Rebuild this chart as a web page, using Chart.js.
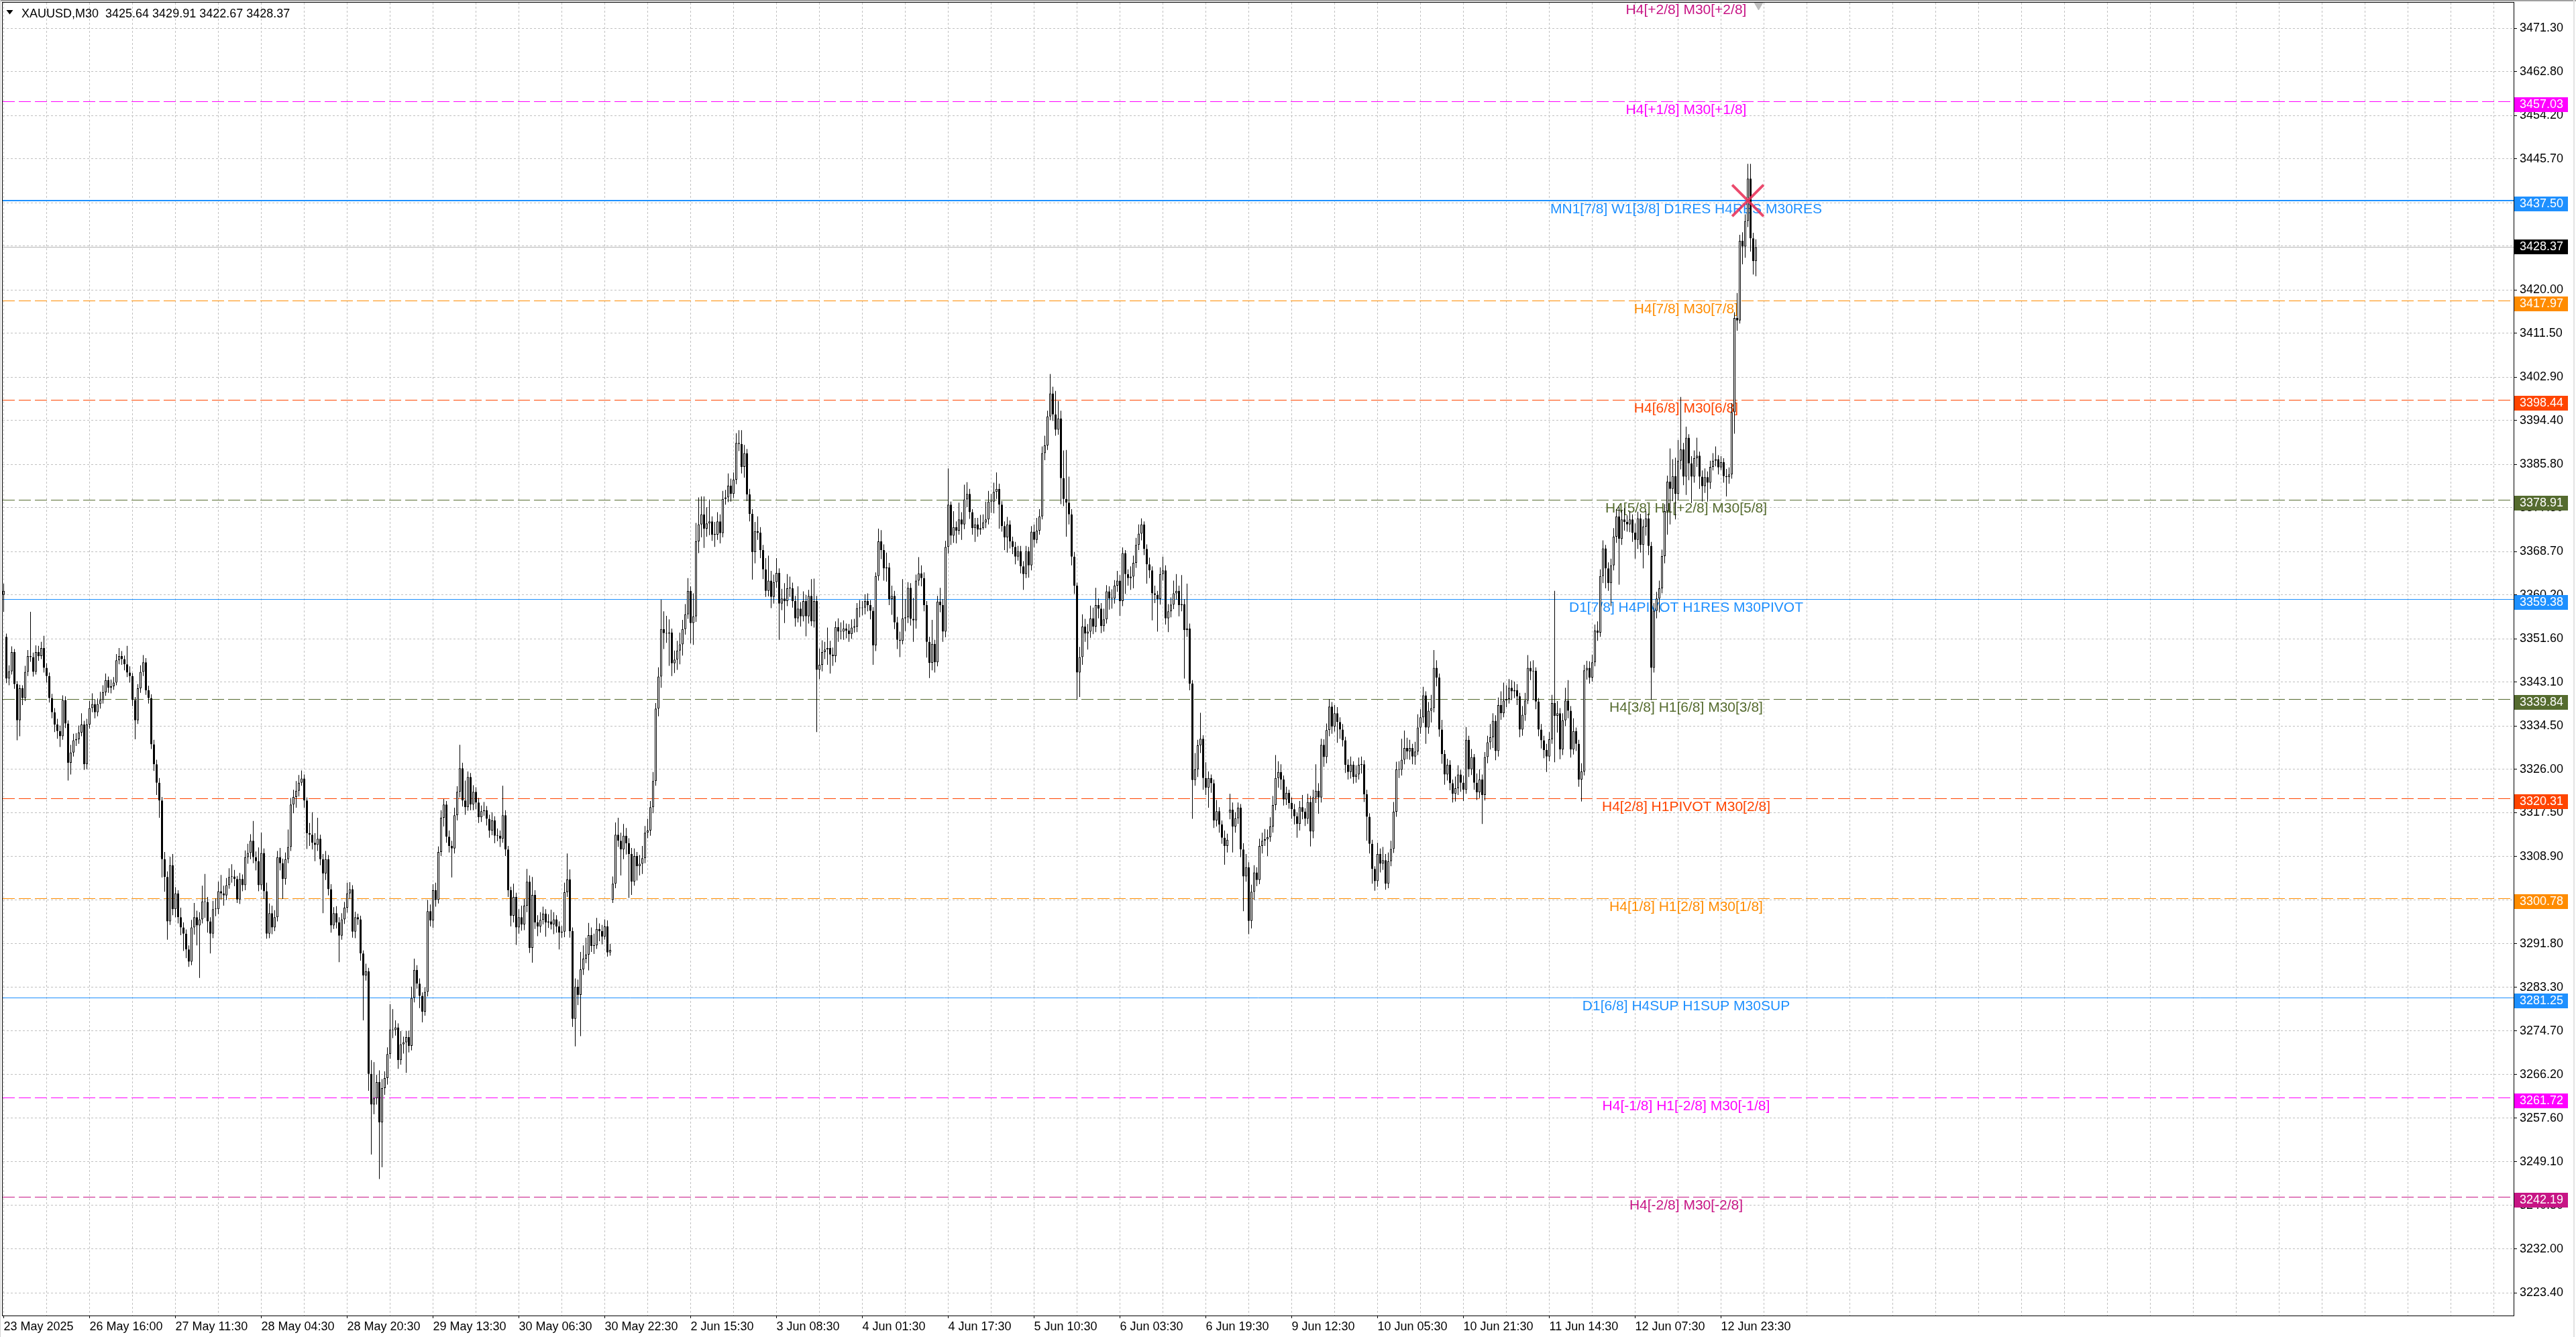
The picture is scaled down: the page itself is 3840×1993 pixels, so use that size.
<!DOCTYPE html>
<html><head><meta charset="utf-8">
<script src="https://cdn.jsdelivr.net/npm/chart.js@4.4.1/dist/chart.umd.min.js"></script>
<style>html,body{margin:0;padding:0;background:#fff;overflow:hidden}canvas{display:block}</style>
</head><body><canvas id="c" width="3840" height="1993"></canvas>
<script>
// ---------------- DATA ----------------
const symbolTitle = 'XAUUSD,M30';
const lastOHLC = [3425.64, 3429.91, 3422.67, 3428.37];
const currentPrice = 3428.37;

const opens = [
3360.2,3352.0,3343.8,3345.2,3349.0,3342.7,3335.6,3341.9,3340.0,3345.1,
3348.2,3348.0,3345.1,3349.0,3348.2,3349.8,3345.9,3344.3,3340.0,3337.2,
3334.8,3333.5,3332.5,3339.6,3335.0,3327.3,3329.3,3331.7,3331.9,3333.2,
3334.8,3327.0,3334.8,3338.0,3338.8,3337.2,3338.8,3339.6,3341.1,3343.5,
3342.0,3342.3,3343.0,3347.4,3348.2,3347.6,3346.6,3345.0,3344.3,3339.6,
3335.6,3341.9,3345.1,3347.0,3341.5,3340.0,3330.9,3327.0,3323.4,3319.9,
3308.4,3304.9,3296.2,3307.2,3298.6,3301.7,3297.0,3295.0,3293.8,3290.7,
3288.3,3295.0,3297.0,3295.4,3296.6,3300.1,3300.0,3296.2,3293.8,3298.6,
3298.6,3302.1,3301.7,3301.3,3303.3,3304.9,3305.0,3304.5,3300.5,3304.5,
3303.3,3308.8,3309.6,3312.0,3308.8,3308.0,3303.3,3309.6,3302.1,3293.8,
3297.8,3295.0,3297.0,3308.8,3307.6,3304.5,3308.4,3310.8,3319.1,3320.6,
3321.8,3323.4,3324.2,3319.9,3313.5,3313.2,3311.6,3311.2,3312.4,3308.4,
3305.6,3308.4,3302.5,3295.4,3297.8,3296.0,3293.4,3296.6,3298.9,3301.7,
3302.5,3294.2,3297.0,3296.6,3289.9,3285.6,3286.4,3266.3,3260.3,3261.5,
3264.7,3256.8,3263.5,3265.5,3270.2,3275.0,3274.9,3275.4,3269.0,3272.1,
3272.5,3273.5,3271.8,3281.2,3286.7,3284.0,3281.6,3278.5,3282.4,3298.2,
3296.4,3302.3,3300.4,3309.8,3316.5,3319.1,3312.8,3311.0,3310.5,3317.0,
3321.6,3326.2,3319.9,3318.6,3324.5,3319.1,3321.6,3319.5,3316.6,3317.8,
3318.0,3316.3,3314.0,3316.0,3313.0,3313.0,3312.4,3317.0,3310.3,3302.3,
3297.3,3301.0,3295.0,3297.0,3295.6,3299.3,3304.0,3291.0,3301.4,3296.0,
3295.2,3296.5,3297.7,3296.0,3296.2,3295.6,3296.6,3295.2,3294.0,3294.2,
3301.9,3304.4,3294.3,3277.1,3283.4,3281.8,3286.8,3288.9,3289.7,3293.5,
3291.4,3291.5,3294.7,3294.3,3293.2,3295.2,3290.1,3300.4,3303.6,3313.2,
3312.0,3310.3,3313.0,3311.5,3309.4,3304.0,3309.0,3307.0,3307.5,3308.6,
3313.6,3314.0,3318.6,3323.7,3337.9,3344.2,3353.5,3352.7,3352.6,3352.8,
3346.8,3347.5,3349.3,3350.5,3353.5,3356.4,3361.0,3354.7,3356.0,3370.7,
3374.0,3376.0,3373.2,3374.2,3374.6,3372.0,3372.0,3374.6,3372.3,3379.0,
3379.3,3381.6,3380.0,3382.8,3390.0,3389.8,3385.3,3388.0,3379.9,3376.1,
3368.6,3372.7,3372.4,3369.0,3365.2,3361.0,3363.0,3359.8,3362.7,3364.5,
3358.5,3359.5,3359.0,3361.5,3361.5,3359.0,3355.6,3357.5,3356.0,3359.0,
3356.0,3360.0,3355.0,3359.0,3345.5,3346.5,3349.0,3349.5,3349.8,3348.5,
3348.2,3353.9,3353.0,3353.0,3353.6,3353.2,3352.5,3353.8,3354.0,3357.6,
3357.6,3357.7,3359.0,3358.2,3357.1,3350.3,3363.9,3370.7,3369.0,3365.4,
3365.6,3359.4,3360.0,3354.8,3351.4,3351.2,3355.6,3355.8,3361.6,3355.5,
3355.2,3363.0,3364.4,3363.5,3358.2,3351.0,3346.9,3350.6,3347.0,3358.9,
3358.2,3353.0,3369.6,3377.9,3371.8,3373.5,3372.8,3375.0,3374.0,3378.9,
3380.0,3376.4,3373.3,3374.0,3373.0,3373.3,3374.4,3375.0,3378.5,3378.5,
3380.4,3381.0,3377.9,3373.7,3371.5,3374.0,3370.7,3369.6,3367.7,3368.8,
3365.8,3364.3,3368.8,3366.0,3372.6,3371.0,3372.8,3375.6,3388.0,3389.5,
3395.2,3399.7,3395.6,3392.6,3394.8,3383.1,3379.0,3378.3,3376.0,3367.7,
3362.0,3345.0,3348.0,3354.0,3352.6,3353.0,3355.6,3354.0,3358.2,3357.5,
3354.1,3355.4,3360.9,3359.5,3359.5,3362.0,3363.0,3359.0,3368.4,3364.3,
3363.5,3363.8,3366.5,3370.0,3372.2,3374.0,3369.2,3366.2,3365.0,3360.5,
3360.2,3359.4,3364.3,3365.0,3355.6,3357.0,3358.3,3360.5,3361.0,3358.2,
3358.4,3353.3,3353.6,3342.8,3323.9,3326.0,3330.7,3332.0,3324.3,3322.4,
3324.3,3323.3,3316.0,3317.8,3315.2,3312.6,3311.0,3317.5,3318.1,3314.8,
3316.4,3318.5,3310.3,3305.0,3306.8,3296.3,3302.0,3305.8,3304.3,3311.0,
3312.0,3312.3,3312.7,3314.8,3319.0,3324.3,3325.5,3324.0,3320.1,3321.4,
3319.4,3318.2,3316.8,3315.3,3318.6,3317.7,3316.3,3319.6,3313.8,3320.5,
3321.8,3320.5,3330.8,3328.4,3333.7,3338.3,3334.4,3337.0,3335.3,3333.8,
3331.7,3326.9,3325.5,3326.9,3324.5,3325.0,3326.9,3327.0,3321.1,3316.7,
3311.4,3306.5,3304.1,3309.4,3307.5,3308.2,3303.6,3308.0,3310.4,3317.7,
3326.0,3325.9,3327.9,3330.2,3329.5,3330.2,3328.5,3329.5,3334.2,3336.2,
3340.5,3334.2,3337.5,3338.0,3345.9,3344.0,3333.8,3329.0,3325.0,3326.9,
3323.3,3321.2,3322.3,3325.0,3323.4,3322.0,3331.8,3326.0,3328.4,3323.4,
3321.5,3324.0,3321.0,3328.4,3331.3,3332.3,3335.5,3329.6,3338.6,3337.0,
3339.5,3339.8,3342.0,3341.3,3341.5,3340.3,3333.8,3336.7,3339.5,3345.9,
3345.2,3345.3,3339.3,3333.8,3331.7,3329.8,3328.5,3331.9,3339.0,3336.5,
3337.0,3329.9,3335.6,3339.5,3337.5,3329.9,3333.5,3331.0,3324.0,3325.6,
3345.4,3345.9,3344.0,3347.0,3353.2,3352.8,3363.9,3369.3,3365.4,3362.5,
3366.0,3371.6,3375.6,3371.2,3375.0,3374.5,3374.0,3375.0,3372.4,3371.0,
3375.2,3370.0,3373.6,3375.2,3369.8,3345.9,3357.1,3359.5,3361.5,3367.8,
3376.6,3382.4,3381.0,3383.5,3380.0,3386.5,3388.7,3383.4,3391.0,3386.0,
3383.4,3387.0,3387.5,3383.4,3381.5,3383.3,3382.2,3385.3,3386.5,3386.8,
3385.2,3386.2,3383.5,3383.3,3383.8,3396.0,3414.5,3414.0,3429.6,3428.5,
3433.5,3441.8,3430.1,3425.64];

const highs = [
3362.4,3352.6,3346.4,3350.1,3349.6,3343.3,3342.6,3342.5,3346.3,3349.4,
3356.9,3348.9,3350.3,3350.2,3351.0,3352.2,3346.8,3345.0,3340.8,3338.0,
3335.9,3334.6,3340.5,3340.3,3335.6,3330.8,3333.0,3333.1,3334.6,3337.0,
3335.5,3335.9,3339.4,3340.9,3339.7,3339.9,3341.2,3342.5,3344.8,3344.2,
3343.6,3344.1,3348.6,3349.8,3349.2,3348.3,3350.2,3346.2,3344.9,3340.2,
3342.7,3346.4,3348.4,3347.8,3342.4,3340.7,3331.8,3327.9,3324.3,3320.6,
3309.8,3306.0,3308.9,3309.4,3302.9,3302.3,3298.9,3296.0,3294.6,3291.5,
3296.5,3299.8,3298.3,3298.0,3303.2,3305.5,3301.0,3297.0,3300.2,3300.7,
3304.0,3305.3,3303.2,3304.7,3306.6,3307.4,3306.3,3305.1,3305.7,3305.4,
3310.1,3311.4,3313.3,3315.9,3309.9,3310.7,3313.6,3310.5,3303.8,3299.7,
3299.3,3298.4,3310.0,3310.6,3308.5,3309.7,3314.2,3320.4,3322.0,3323.7,
3324.9,3325.8,3325.0,3320.5,3315.5,3317.6,3313.5,3316.5,3313.2,3309.4,
3310.0,3309.2,3303.5,3299.0,3299.2,3297.0,3297.8,3300.0,3303.8,3303.9,
3303.3,3298.1,3297.7,3297.3,3290.5,3287.9,3287.1,3269.0,3268.6,3266.1,
3267.0,3265.3,3266.8,3271.5,3280.0,3279.0,3276.8,3276.2,3274.7,3273.6,
3274.7,3274.8,3283.4,3288.9,3287.6,3285.0,3282.3,3283.3,3300.4,3299.5,
3303.5,3303.8,3310.9,3318.0,3320.2,3319.8,3314.0,3312.0,3318.5,3322.7,
3330.8,3327.3,3323.8,3325.6,3325.3,3322.9,3322.5,3320.4,3318.9,3319.6,
3318.8,3317.1,3317.6,3316.8,3314.4,3314.0,3322.8,3318.0,3311.0,3303.0,
3303.6,3301.8,3298.6,3299.3,3300.6,3306.5,3305.2,3304.9,3302.3,3297.4,
3298.0,3299.1,3298.6,3297.6,3298.5,3298.0,3297.4,3296.2,3295.3,3303.8,
3309.5,3306.4,3295.0,3285.0,3284.8,3290.2,3291.5,3293.0,3295.9,3295.0,
3293.8,3296.9,3295.8,3295.5,3296.6,3296.4,3291.8,3305.0,3315.6,3316.5,
3313.6,3315.3,3314.5,3312.5,3310.6,3310.5,3309.8,3309.2,3311.0,3314.9,
3316.3,3319.8,3325.5,3339.0,3346.0,3359.3,3357.0,3356.1,3355.4,3353.6,
3349.3,3351.2,3352.8,3355.3,3358.4,3363.5,3361.9,3360.5,3374.3,3379.3,
3379.5,3379.5,3377.4,3378.9,3375.6,3374.5,3376.4,3376.0,3380.6,3380.8,
3384.0,3383.0,3384.2,3391.9,3392.5,3392.5,3389.6,3388.8,3381.0,3377.0,
3374.5,3375.6,3373.5,3370.0,3367.4,3367.9,3364.9,3364.2,3367.4,3365.4,
3361.4,3362.5,3364.3,3363.8,3362.6,3360.0,3361.9,3358.8,3360.9,3360.2,
3361.2,3363.3,3363.4,3360.0,3349.7,3351.3,3351.0,3353.8,3351.2,3349.9,
3355.0,3355.6,3354.8,3355.2,3354.6,3354.5,3355.4,3355.5,3358.6,3359.2,
3359.0,3360.3,3360.5,3359.2,3357.8,3364.6,3373.2,3372.9,3370.1,3368.5,
3366.5,3362.0,3361.0,3355.9,3353.0,3363.3,3359.4,3362.7,3362.5,3359.6,
3364.2,3367.6,3366.0,3364.6,3359.0,3352.0,3355.3,3351.4,3360.0,3361.6,
3359.4,3370.8,3385.0,3378.5,3376.6,3374.6,3378.3,3376.4,3381.8,3382.3,
3381.0,3377.0,3375.3,3375.3,3375.9,3376.0,3378.5,3380.6,3380.0,3382.2,
3384.2,3382.0,3378.6,3374.6,3375.5,3374.8,3371.6,3370.6,3369.8,3369.8,
3366.8,3369.8,3369.6,3373.7,3374.0,3375.3,3377.0,3389.3,3391.4,3396.3,
3403.5,3401.0,3400.2,3398.2,3396.3,3388.5,3388.6,3383.4,3377.0,3368.6,
3362.6,3350.0,3356.4,3355.5,3354.5,3358.1,3357.7,3361.6,3359.5,3358.6,
3357.5,3362.1,3361.9,3361.3,3363.1,3364.9,3364.1,3369.5,3369.0,3365.2,
3365.8,3367.9,3371.4,3374.0,3375.2,3374.6,3370.1,3367.5,3365.8,3362.0,
3361.0,3365.6,3367.7,3366.0,3358.4,3359.7,3363.0,3364.3,3362.0,3364.1,
3359.4,3362.4,3354.6,3343.5,3329.2,3331.8,3337.1,3332.7,3327.4,3325.6,
3325.0,3324.0,3320.0,3318.6,3316.0,3314.0,3313.4,3321.2,3319.5,3317.6,
3319.5,3319.2,3311.5,3309.4,3307.8,3303.4,3307.2,3306.8,3312.4,3313.6,
3314.3,3314.2,3316.6,3320.8,3328.8,3327.6,3327.0,3324.8,3322.6,3322.0,
3320.5,3319.2,3317.6,3319.8,3321.0,3318.4,3321.2,3320.8,3322.0,3327.0,
3323.3,3332.0,3331.9,3335.0,3339.8,3339.2,3338.6,3338.2,3336.2,3334.9,
3332.4,3328.0,3328.5,3327.6,3326.8,3328.3,3328.5,3327.8,3322.0,3317.4,
3312.2,3307.0,3311.6,3310.5,3310.8,3309.4,3309.7,3312.0,3319.6,3327.5,
3327.6,3332.0,3333.6,3332.2,3331.8,3331.0,3331.4,3336.8,3337.8,3342.2,
3341.3,3339.2,3340.6,3349.4,3347.4,3344.8,3335.7,3329.8,3328.1,3327.8,
3324.0,3324.6,3326.8,3325.9,3324.8,3334.3,3332.6,3330.0,3329.0,3325.2,
3326.0,3325.0,3329.4,3332.6,3334.9,3337.0,3336.6,3340.1,3341.3,3343.0,
3342.5,3343.7,3343.5,3343.2,3342.7,3341.0,3338.4,3341.0,3348.4,3347.2,
3347.4,3346.0,3340.0,3334.9,3332.6,3331.0,3333.3,3340.6,3361.0,3339.4,
3338.0,3337.0,3342.0,3343.5,3338.4,3336.0,3334.2,3331.8,3327.2,3346.5,
3347.3,3347.2,3348.5,3354.4,3355.0,3365.2,3370.9,3370.0,3366.6,3367.3,
3373.3,3377.0,3377.5,3376.8,3377.2,3375.8,3376.5,3376.0,3374.2,3376.5,
3376.1,3375.0,3376.6,3376.2,3370.6,3358.6,3360.8,3363.0,3369.1,3378.0,
3383.6,3388.9,3386.8,3387.1,3390.6,3399.0,3390.0,3393.2,3391.7,3387.4,
3388.5,3391.0,3388.3,3384.6,3385.0,3384.4,3386.5,3388.0,3389.3,3387.6,
3387.4,3387.0,3384.9,3385.2,3397.8,3415.6,3419.4,3430.8,3431.3,3434.8,
3444.7,3444.7,3431.2,3429.91];

const lows = [
3356.9,3342.9,3342.5,3344.6,3341.8,3331.7,3332.5,3338.6,3339.4,3344.3,
3347.1,3344.2,3344.6,3347.3,3347.6,3345.0,3343.0,3339.1,3336.0,3333.3,
3332.0,3330.4,3331.8,3334.1,3323.8,3325.0,3328.5,3330.6,3331.0,3332.5,
3325.9,3326.0,3334.0,3337.2,3336.0,3336.4,3337.9,3338.9,3340.4,3341.0,
3340.9,3341.6,3342.5,3346.6,3346.5,3345.4,3344.1,3343.0,3338.4,3331.9,
3334.9,3341.0,3344.3,3340.6,3338.9,3330.0,3325.7,3321.0,3316.5,3304.8,
3302.0,3292.6,3295.5,3297.4,3297.0,3295.8,3293.5,3290.4,3289.0,3287.3,
3287.6,3293.6,3291.5,3285.1,3295.8,3296.9,3294.0,3289.9,3292.9,3297.2,
3297.6,3300.5,3299.3,3300.4,3302.6,3303.8,3303.1,3299.8,3299.6,3302.1,
3302.3,3307.5,3308.4,3307.6,3306.2,3302.1,3302.4,3300.6,3292.8,3292.9,
3293.7,3294.3,3296.2,3306.2,3300.6,3303.4,3307.6,3310.0,3317.4,3318.5,
3320.7,3322.8,3318.5,3310.4,3311.0,3310.3,3308.0,3310.0,3307.2,3297.8,
3304.3,3301.3,3294.0,3294.7,3294.8,3288.2,3292.6,3295.7,3297.9,3300.6,
3293.0,3292.9,3295.5,3288.5,3276.8,3284.6,3263.0,3250.5,3258.4,3260.3,
3245.7,3248.0,3262.2,3264.2,3269.3,3273.3,3273.8,3267.3,3268.1,3270.3,
3266.5,3270.5,3270.9,3280.3,3283.0,3279.2,3276.4,3277.7,3281.5,3295.2,
3294.9,3299.1,3299.7,3309.0,3314.8,3311.6,3309.7,3304.8,3309.5,3316.0,
3320.5,3318.7,3317.1,3317.9,3318.0,3318.0,3318.2,3315.5,3315.7,3316.9,
3315.0,3312.6,3313.1,3311.5,3311.9,3310.8,3311.6,3309.0,3301.0,3295.2,
3296.0,3291.6,3293.8,3294.4,3294.5,3298.0,3290.0,3288.1,3294.7,3293.3,
3294.0,3295.6,3293.2,3294.9,3294.6,3293.7,3294.0,3290.7,3293.0,3293.1,
3301.0,3293.0,3275.5,3271.7,3279.8,3273.7,3285.7,3288.0,3286.6,3290.2,
3289.8,3290.8,3292.3,3291.7,3292.6,3289.3,3289.5,3299.8,3302.7,3310.8,
3305.2,3308.4,3309.3,3300.8,3301.4,3303.2,3304.2,3305.2,3305.5,3307.6,
3312.5,3313.0,3317.4,3322.8,3336.4,3342.0,3349.6,3350.8,3346.3,3344.3,
3344.9,3345.5,3346.6,3348.3,3352.4,3355.5,3350.7,3350.4,3354.9,3368.4,
3371.5,3369.4,3371.6,3371.9,3370.8,3369.6,3371.0,3370.3,3371.5,3377.9,
3378.4,3378.5,3379.2,3381.9,3388.4,3384.0,3383.2,3378.6,3374.6,3363.2,
3366.4,3371.0,3367.4,3363.3,3359.8,3359.9,3357.6,3358.5,3361.6,3351.4,
3357.2,3354.7,3358.0,3359.8,3357.7,3354.0,3354.8,3354.0,3355.0,3352.1,
3354.6,3354.1,3353.8,3333.3,3343.7,3345.2,3347.6,3346.5,3344.8,3346.3,
3347.0,3351.0,3351.5,3351.4,3351.7,3351.0,3351.6,3352.8,3352.9,3355.8,
3356.2,3356.4,3357.0,3355.4,3346.5,3349.2,3363.0,3367.2,3363.0,3362.8,
3358.2,3356.3,3353.5,3349.6,3348.0,3350.5,3353.1,3354.7,3354.2,3351.0,
3353.6,3362.0,3361.9,3357.0,3347.9,3343.9,3345.4,3345.0,3346.2,3356.8,
3351.0,3351.9,3368.3,3370.0,3370.4,3370.3,3372.0,3371.0,3373.1,3377.4,
3375.1,3372.0,3370.6,3371.6,3372.0,3373.0,3373.3,3374.0,3376.3,3376.2,
3379.0,3373.2,3372.6,3369.0,3368.5,3369.3,3368.2,3366.2,3366.9,3364.4,
3361.2,3363.5,3363.6,3365.0,3369.5,3370.3,3372.0,3375.0,3386.6,3388.6,
3394.5,3394.3,3391.4,3391.6,3378.0,3377.6,3371.6,3374.0,3366.0,3360.4,
3339.7,3340.2,3346.5,3351.0,3349.5,3351.8,3352.5,3352.9,3355.6,3352.7,
3353.0,3354.6,3357.3,3357.5,3358.5,3360.8,3356.1,3358.0,3360.4,3362.0,
3361.2,3361.5,3365.5,3369.0,3370.9,3368.0,3362.4,3363.5,3355.2,3358.6,
3353.0,3358.3,3363.0,3354.4,3352.9,3355.8,3357.4,3359.3,3356.0,3357.0,
3343.8,3352.0,3341.5,3316.3,3322.8,3324.5,3329.2,3322.0,3321.0,3318.5,
3321.4,3314.5,3314.8,3313.6,3311.4,3307.3,3309.7,3316.2,3309.7,3313.6,
3315.3,3308.8,3298.2,3304.0,3293.7,3294.8,3300.4,3303.1,3303.5,3309.5,
3311.0,3309.0,3311.8,3313.6,3318.0,3322.4,3322.0,3318.9,3319.0,3318.3,
3316.3,3315.2,3312.6,3314.0,3316.2,3314.9,3315.3,3310.9,3312.5,3319.4,
3317.3,3319.5,3326.5,3327.2,3332.5,3333.0,3333.4,3331.2,3332.0,3330.5,
3325.3,3324.0,3324.2,3323.2,3323.4,3324.0,3325.2,3319.6,3312.0,3309.5,
3303.6,3302.2,3303.0,3305.8,3306.3,3302.4,3302.7,3307.0,3309.6,3316.7,
3324.3,3324.8,3327.0,3328.0,3327.9,3327.0,3326.9,3328.8,3333.0,3335.1,
3331.0,3333.0,3335.2,3337.2,3342.3,3332.4,3327.1,3323.0,3323.8,3321.9,
3319.5,3319.7,3321.0,3321.6,3319.8,3321.2,3324.5,3324.9,3322.0,3320.0,
3320.4,3315.3,3319.9,3327.2,3329.9,3330.2,3327.8,3328.5,3335.7,3336.2,
3338.2,3338.9,3339.6,3340.0,3338.6,3332.3,3332.6,3335.5,3338.8,3343.5,
3339.6,3337.8,3332.5,3330.1,3328.2,3325.5,3327.6,3331.0,3327.4,3333.2,
3328.0,3328.8,3334.5,3336.0,3328.3,3328.9,3329.6,3322.6,3319.7,3324.8,
3343.6,3342.8,3343.2,3346.2,3351.2,3352.0,3362.5,3361.5,3361.0,3358.0,
3365.0,3370.4,3362.2,3370.0,3372.8,3372.6,3372.5,3370.6,3367.3,3369.2,
3368.5,3365.4,3371.8,3368.0,3339.6,3345.0,3355.6,3356.8,3360.5,3366.4,
3372.0,3374.0,3378.6,3375.0,3378.8,3384.8,3381.7,3379.8,3382.7,3378.2,
3382.2,3385.3,3381.0,3378.5,3380.2,3378.5,3381.0,3384.6,3385.4,3383.8,
3384.7,3382.2,3379.5,3382.0,3383.0,3391.8,3412.0,3413.4,3425.0,3426.3,
3432.3,3427.5,3423.0,3422.67];

const closes = [
3361.0,3343.8,3345.2,3349.0,3342.7,3335.6,3341.9,3340.0,3345.1,3348.2,
3348.0,3345.1,3349.0,3348.2,3349.8,3345.9,3344.3,3340.0,3337.2,3334.8,
3333.5,3332.5,3339.6,3335.0,3327.3,3329.3,3331.7,3331.9,3333.2,3334.8,
3327.0,3334.8,3338.0,3338.8,3337.2,3338.8,3339.6,3341.1,3343.5,3342.0,
3342.3,3343.0,3347.4,3348.2,3347.6,3346.6,3345.0,3344.3,3339.6,3335.6,
3341.9,3345.1,3347.0,3341.5,3340.0,3330.9,3327.0,3323.4,3319.9,3308.4,
3304.9,3296.2,3307.2,3298.6,3301.7,3297.0,3295.0,3293.8,3290.7,3288.3,
3295.0,3297.0,3295.4,3296.6,3300.1,3300.0,3296.2,3293.8,3298.6,3298.6,
3302.1,3301.7,3301.3,3303.3,3304.9,3305.0,3304.5,3300.5,3304.5,3303.3,
3308.8,3309.6,3312.0,3308.8,3308.0,3303.3,3309.6,3302.1,3293.8,3297.8,
3295.0,3297.0,3308.8,3307.6,3304.5,3308.4,3310.8,3319.1,3320.6,3321.8,
3323.4,3324.2,3319.9,3313.5,3313.2,3311.6,3311.2,3312.4,3308.4,3305.6,
3308.4,3302.5,3295.4,3297.8,3296.0,3293.4,3296.6,3298.9,3301.7,3302.5,
3294.2,3297.0,3296.6,3289.9,3285.6,3286.4,3266.3,3260.3,3261.5,3264.7,
3256.8,3263.5,3265.5,3270.2,3275.0,3274.9,3275.4,3269.0,3272.1,3272.5,
3273.5,3271.8,3281.2,3286.7,3284.0,3281.6,3278.5,3282.4,3298.2,3296.4,
3302.3,3300.4,3309.8,3316.5,3319.1,3312.8,3311.0,3310.5,3317.0,3321.6,
3326.2,3319.9,3318.6,3324.5,3319.1,3321.6,3319.5,3316.6,3317.8,3318.0,
3316.3,3314.0,3316.0,3313.0,3313.0,3312.4,3317.0,3310.3,3302.3,3297.3,
3301.0,3295.0,3297.0,3295.6,3299.3,3304.0,3291.0,3301.4,3296.0,3295.2,
3296.5,3297.7,3296.0,3296.2,3295.6,3296.6,3295.2,3294.0,3294.2,3301.9,
3304.4,3294.3,3277.1,3283.4,3281.8,3286.8,3288.9,3289.7,3293.5,3291.4,
3291.5,3294.7,3294.3,3293.2,3295.2,3290.1,3290.6,3303.6,3313.2,3312.0,
3310.3,3313.0,3311.5,3309.4,3304.0,3309.0,3307.0,3307.5,3308.6,3313.6,
3314.0,3318.6,3323.7,3337.9,3344.2,3353.5,3352.7,3352.6,3352.8,3346.8,
3347.5,3349.3,3350.5,3353.5,3356.4,3361.0,3354.7,3356.0,3370.7,3374.0,
3376.0,3373.2,3374.2,3374.6,3372.0,3372.0,3374.6,3372.3,3379.0,3379.3,
3381.6,3380.0,3382.8,3390.0,3389.8,3385.3,3388.0,3379.9,3376.1,3368.6,
3372.7,3372.4,3369.0,3365.2,3361.0,3363.0,3359.8,3362.7,3364.5,3358.5,
3359.5,3359.0,3361.5,3361.5,3359.0,3355.6,3357.5,3356.0,3359.0,3356.0,
3360.0,3355.0,3359.0,3345.5,3346.5,3349.0,3349.5,3349.8,3348.5,3348.2,
3353.9,3353.0,3353.0,3353.6,3353.2,3352.5,3353.8,3354.0,3357.6,3357.6,
3357.7,3359.0,3358.2,3357.1,3350.3,3363.9,3370.7,3369.0,3365.4,3365.6,
3359.4,3360.0,3354.8,3351.4,3351.2,3355.6,3355.8,3361.6,3355.5,3355.2,
3363.0,3364.4,3363.5,3358.2,3351.0,3346.9,3350.6,3347.0,3358.9,3358.2,
3353.0,3369.6,3377.9,3371.8,3373.5,3372.8,3375.0,3374.0,3378.9,3380.0,
3376.4,3373.3,3374.0,3373.0,3373.3,3374.4,3375.0,3378.5,3378.5,3380.4,
3381.0,3377.9,3373.7,3371.5,3374.0,3370.7,3369.6,3367.7,3368.8,3365.8,
3364.3,3368.8,3366.0,3372.6,3371.0,3372.8,3375.6,3388.0,3389.5,3395.2,
3399.7,3395.6,3392.6,3394.8,3383.1,3379.0,3378.3,3376.0,3367.7,3362.0,
3345.0,3348.0,3354.0,3352.6,3353.0,3355.6,3354.0,3358.2,3357.5,3354.1,
3355.4,3360.9,3359.5,3359.5,3362.0,3363.0,3359.0,3368.4,3364.3,3363.5,
3363.8,3366.5,3370.0,3372.2,3374.0,3369.2,3366.2,3365.0,3360.5,3360.2,
3359.4,3364.3,3365.0,3355.6,3357.0,3358.3,3360.5,3361.0,3358.2,3358.4,
3353.3,3353.6,3342.8,3323.9,3326.0,3330.7,3332.0,3324.3,3322.4,3324.3,
3323.3,3316.0,3317.8,3315.2,3312.6,3311.0,3312.2,3318.1,3314.8,3316.4,
3318.5,3310.3,3305.0,3306.8,3296.3,3302.0,3305.8,3304.3,3311.0,3312.0,
3312.3,3312.7,3314.8,3319.0,3324.3,3325.5,3324.0,3320.1,3321.4,3319.4,
3318.2,3316.8,3315.3,3318.6,3317.7,3316.3,3319.6,3313.8,3320.5,3321.8,
3320.5,3330.8,3328.4,3333.7,3338.3,3334.4,3337.0,3335.3,3333.8,3331.7,
3326.9,3325.5,3326.9,3324.5,3325.0,3326.9,3327.0,3321.1,3316.7,3311.4,
3306.5,3304.1,3309.4,3307.5,3308.2,3303.6,3308.0,3310.4,3317.7,3326.0,
3325.9,3327.9,3330.2,3329.5,3330.2,3328.5,3329.5,3334.2,3336.2,3340.5,
3334.2,3337.5,3338.0,3345.9,3344.0,3333.8,3329.0,3325.0,3326.9,3323.3,
3321.2,3322.3,3325.0,3323.4,3322.0,3331.8,3326.0,3328.4,3323.4,3321.5,
3324.0,3321.0,3328.4,3331.3,3332.3,3335.5,3329.6,3338.6,3337.0,3339.5,
3339.8,3342.0,3341.3,3341.5,3340.3,3333.8,3336.7,3339.5,3345.9,3345.2,
3345.3,3339.3,3333.8,3331.7,3329.8,3328.5,3331.9,3339.0,3336.5,3337.0,
3329.9,3335.6,3339.5,3337.5,3329.9,3333.5,3331.0,3324.0,3325.6,3345.4,
3345.9,3344.0,3347.0,3353.2,3352.8,3363.9,3369.3,3365.4,3362.5,3366.0,
3371.6,3375.6,3371.2,3375.0,3374.5,3374.0,3375.0,3372.4,3371.0,3375.2,
3370.0,3373.6,3375.2,3369.8,3345.9,3357.1,3359.5,3361.5,3367.8,3376.6,
3382.4,3381.0,3383.5,3380.0,3386.5,3388.7,3383.4,3391.0,3386.0,3383.4,
3387.0,3387.5,3383.4,3381.5,3383.3,3382.2,3385.3,3386.5,3386.8,3385.2,
3386.2,3383.5,3383.3,3383.8,3396.0,3414.5,3414.0,3429.6,3428.5,3433.5,
3441.8,3430.1,3425.64,3428.37];

// time axis: one label every 32 bars, starting at bar 0
const timeLabels = ['23 May 2025','26 May 16:00','27 May 11:30','28 May 04:30','28 May 20:30',
  '29 May 13:30','30 May 06:30','30 May 22:30','2 Jun 15:30','3 Jun 08:30','4 Jun 01:30',
  '4 Jun 17:30','5 Jun 10:30','6 Jun 03:30','6 Jun 19:30','9 Jun 12:30','10 Jun 05:30',
  '10 Jun 21:30','11 Jun 14:30','12 Jun 07:30','12 Jun 23:30'];
const barsPerLabel = 32;
const barsPerGrid = 16;
const emptyBarsRight = 282;

// price axis tick labels
const priceTicks = [3471.30,3462.80,3454.20,3445.70,3437.10,3428.60,3420.00,3411.50,3402.90,
  3394.40,3385.80,3377.30,3368.70,3360.20,3351.60,3343.10,3334.50,3326.00,3317.50,3308.90,
  3300.40,3291.80,3283.30,3274.70,3266.20,3257.60,3249.10,3240.50,3232.00,3223.40];
const priceMin = 3218.93, priceMax = 3476.30;

// Murrey-math style levels
const levelPrices = [3476.56,3457.03,3437.50,3417.97,3398.44,3378.91,3359.38,3339.84,3320.31,3300.78,3281.25,3261.72,3242.19];
const levelNames = ['H4[+2/8] M30[+2/8]','H4[+1/8] M30[+1/8]','MN1[7/8] W1[3/8] D1RES H4RES M30RES',
  'H4[7/8] M30[7/8]','H4[6/8] M30[6/8]','H4[5/8] H1[+2/8] M30[5/8]','D1[7/8] H4PIVOT H1RES M30PIVOT',
  'H4[3/8] H1[6/8] M30[3/8]','H4[2/8] H1PIVOT M30[2/8]','H4[1/8] H1[2/8] M30[1/8]',
  'D1[6/8] H4SUP H1SUP M30SUP','H4[-1/8] H1[-2/8] M30[-1/8]','H4[-2/8] M30[-2/8]'];
const labelBar = 627;
const markerBar = 650, markerPrice = 3437.50;
const arrowBar = 654, arrowPrice = 3476.30;

// ---------------- STYLES ----------------
const C_VIOLET = '#c71585', C_MAG = '#ff00ff', C_BLUE = '#1e90ff', C_ORANGE = '#ff8c00',
      C_RED = '#ff4500', C_OLIVE = '#556b2f';
const levelStyle = [
  {c:C_VIOLET,w:1,d:true},{c:C_MAG,w:1,d:true},{c:C_BLUE,w:2,d:false},{c:C_ORANGE,w:1,d:true},
  {c:C_RED,w:1,d:true},{c:C_OLIVE,w:1,d:true},{c:C_BLUE,w:1,d:false},{c:C_OLIVE,w:1,d:true},
  {c:C_RED,w:1,d:true},{c:C_ORANGE,w:1,d:true},{c:C_BLUE,w:1,d:false},{c:C_MAG,w:1,d:true},
  {c:C_VIOLET,w:1,d:true}];
const FONT = '"Liberation Sans", Arial, sans-serif';
Chart.defaults.font.family = FONT;

const bodyData = closes.map((c, i) => ({x: i, y: [opens[i], c]}));
const wickData = closes.map((c, i) => ({x: i, y: [lows[i], highs[i]]}));

const noPad = s => { s.paddingTop = 0; s.paddingBottom = 0; s.paddingLeft = 0; s.paddingRight = 0; };

const mtPlugin = {
  id: 'mt',
  beforeDatasetsDraw(chart) {
    const {ctx, chartArea: a, scales: {x, y}} = chart;
    ctx.save();
    ctx.beginPath(); ctx.rect(a.left, a.top, a.right - a.left, a.bottom - a.top); ctx.clip();
    ctx.lineWidth = 1; ctx.strokeStyle = '#b8b8b8'; ctx.setLineDash([]);
    let py = Math.round(y.getPixelForValue(currentPrice)) + 0.5;
    ctx.beginPath(); ctx.moveTo(a.left, py); ctx.lineTo(a.right, py); ctx.stroke();
    levelPrices.forEach((p, i) => {
      const st = levelStyle[i];
      const yy = y.getPixelForValue(p);
      const ly = st.w === 2 ? Math.round(yy) : Math.round(yy) + 0.5;
      ctx.lineWidth = st.w; ctx.strokeStyle = st.c;
      ctx.setLineDash(st.d ? [18, 6] : []);
      ctx.beginPath(); ctx.moveTo(a.left, ly); ctx.lineTo(a.right, ly); ctx.stroke();
    });
    ctx.setLineDash([]);
    ctx.font = '21px ' + FONT; ctx.textAlign = 'center'; ctx.textBaseline = 'alphabetic';
    const lx = x.getPixelForValue(labelBar);
    levelPrices.forEach((p, i) => {
      ctx.fillStyle = levelStyle[i].c;
      ctx.fillText(levelNames[i], lx, Math.round(y.getPixelForValue(p)) + 19);
    });
    ctx.restore();
  },
  afterDraw(chart) {
    const {ctx, chartArea: a, scales: {y}} = chart;
    ctx.save();
    ctx.fillStyle = '#a0a0a0'; ctx.fillRect(0, 0, chart.width, 2);
    ctx.fillStyle = '#d4d4d4'; ctx.fillRect(0, 0, 1, chart.height);
    ctx.fillStyle = '#e2e2e2'; ctx.fillRect(chart.width - 4, 0, 2, chart.height);
    ctx.strokeStyle = '#000'; ctx.lineWidth = 1; ctx.setLineDash([]);
    ctx.strokeRect(a.left - 0.5, a.top - 0.5, a.right - a.left + 1, a.bottom - a.top + 1);
    ctx.fillStyle = '#000';
    ctx.beginPath(); ctx.moveTo(9.5, 15); ctx.lineTo(19.5, 15); ctx.lineTo(14.5, 21.5); ctx.closePath(); ctx.fill();
    ctx.font = '18px ' + FONT; ctx.textAlign = 'left'; ctx.textBaseline = 'alphabetic';
    ctx.fillText(symbolTitle + '  ' + lastOHLC.map(v => v.toFixed(2)).join(' '), 32, 26);
    ctx.textBaseline = 'middle';
    levelPrices.forEach((p, i) => {
      if (p > priceMax || p < priceMin) return;
      const yy = Math.round(y.getPixelForValue(p));
      ctx.fillStyle = levelStyle[i].c;
      ctx.fillRect(a.right + 1, yy - 6, 80, 22);
      ctx.fillStyle = '#fff';
      ctx.fillText(p.toFixed(2), a.right + 9, yy + 5);
    });
    const yc = Math.round(y.getPixelForValue(currentPrice));
    ctx.fillStyle = '#000'; ctx.fillRect(a.right + 1, yc - 11, 80, 22);
    ctx.fillStyle = '#fff'; ctx.fillText(currentPrice.toFixed(2), a.right + 9, yc);
    ctx.restore();
  }
};

new Chart(document.getElementById('c'), {
  type: 'bar',
  data: {
    datasets: [
      {type: 'scatter', data: [{x: markerBar, y: markerPrice}], pointStyle: 'crossRot', pointRadius: 33,
       pointBorderColor: 'rgba(232,48,88,0.88)', pointBorderWidth: 4, pointBackgroundColor: 'rgba(0,0,0,0)', order: 0},
      {type: 'scatter', data: [{x: arrowBar, y: arrowPrice}], pointStyle: 'triangle', pointRotation: 180, pointRadius: 11,
       pointBorderColor: '#bcbcbc', pointBackgroundColor: '#bcbcbc', pointBorderWidth: 1, order: 0},
      {label: 'body', data: bodyData, barThickness: 3, grouped: false, borderSkipped: false, inflateAmount: 0,
       minBarLength: 1, borderWidth: 1, borderColor: '#000',
       backgroundColor: c => (closes[c.dataIndex] >= opens[c.dataIndex] ? '#ffffff' : '#000000'), order: 1},
      {label: 'wick', data: wickData, barThickness: 1, grouped: false, borderSkipped: false, inflateAmount: 0,
       borderWidth: 0, backgroundColor: '#000', order: 2}
    ]
  },
  options: {
    responsive: false, animation: false, devicePixelRatio: 1,
    layout: {autoPadding: false, padding: {left: 4, top: 4, right: 0, bottom: 0}},
    plugins: {legend: {display: false}, tooltip: {enabled: false}},
    events: [],
    scales: {
      x: {
        type: 'linear', offset: false, min: -0.375, max: closes.length - 1 + emptyBarsRight + 0.375,
        afterBuildTicks: s => { const t = []; for (let v = 0; v <= s.max; v += barsPerGrid) t.push({value: v}); s.ticks = t; },
        afterFit: s => { s.height = 32; noPad(s); },
        grid: {offset: false, color: '#c0c0c0', lineWidth: 1, tickLength: 4, drawTicks: true,
          tickColor: c => (c.tick && c.tick.value % barsPerLabel === 0 && c.tick.value / barsPerLabel < timeLabels.length) ? '#000' : 'rgba(0,0,0,0)'},
        border: {display: false, dash: [3, 3]},
        ticks: {autoSkip: false, maxRotation: 0, minRotation: 0, align: 'start', padding: 2, color: '#000',
          font: {size: 18, family: FONT},
          callback: v => (v % barsPerLabel === 0 && timeLabels[v / barsPerLabel]) ? timeLabels[v / barsPerLabel] : ''}
      },
      y: {
        position: 'right', min: priceMin, max: priceMax,
        afterBuildTicks: s => { s.ticks = priceTicks.map(v => ({value: v})); },
        afterFit: s => { s.width = 93; noPad(s); },
        grid: {color: '#c0c0c0', lineWidth: 1, tickLength: 5, tickColor: '#000'},
        border: {display: false, dash: [3, 3]},
        ticks: {autoSkip: false, padding: 4, color: '#000', font: {size: 18, family: FONT}, callback: v => Number(v).toFixed(2)}
      }
    }
  },
  plugins: [mtPlugin]
});
</script>
</body></html>
